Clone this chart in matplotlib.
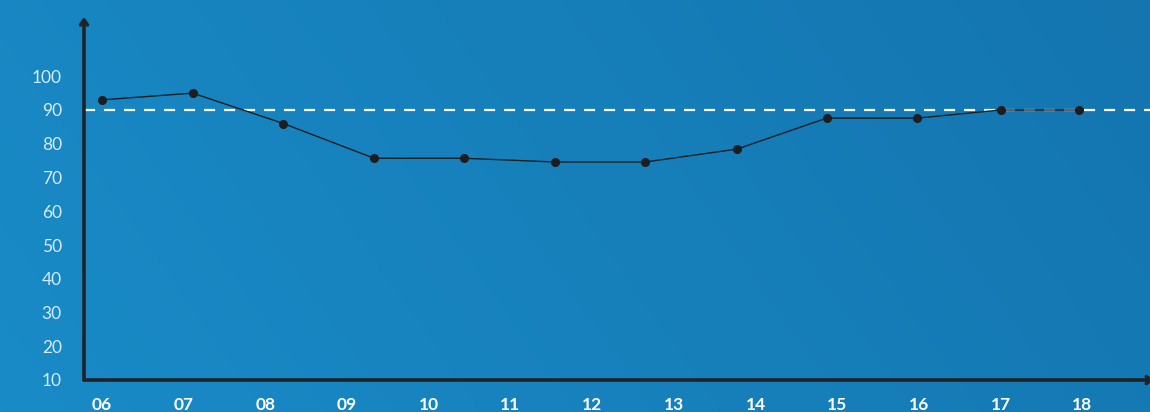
import matplotlib.pyplot as plt
import matplotlib as mpl
import numpy as np

mpl.rcParams['font.family'] = ['Lato', 'DejaVu Sans']

# year labels on the x axis
years = ['06', '07', '08', '09', '10', '11', '12', '13', '14', '15', '16', '17', '18']
year_pos = list(range(6, 19))

# measured points (x in year units, as placed in the picture)
pt_x = [6.0, 7.11, 8.22, 9.33, 10.43, 11.54, 12.65, 13.77, 14.87, 15.98, 17.0, 17.96]
pt_y = [93, 95, 86, 75.7, 75.7, 74.6, 74.6, 78.4, 87.6, 87.6, 90, 90]

target = 90
y_ticks = [10, 20, 30, 40, 50, 60, 70, 80, 90, 100]

W, H = 1150, 412
fig = plt.figure(figsize=(W / 100, H / 100), dpi=100)

# background gradient
bg = fig.add_axes([0, 0, 1, 1])
c_left = np.array([25, 139, 199]) / 255
c_right = np.array([20, 117, 175]) / 255
gx = np.linspace(0, 1, 300)[None, :]
gy = np.linspace(0, 1, 100)[:, None]
t = np.clip(0.8 * gx + 0.2 * gy, 0, 1)
img = c_left[None, None, :] * (1 - t[..., None]) + c_right[None, None, :] * t[..., None]
bg.imshow(img, aspect='auto', extent=[0, 1, 0, 1], origin='lower')
bg.axis('off')

left_px, bottom_px, top_px = 84, 380, 17
ax = fig.add_axes([left_px / W, (H - bottom_px) / H, (W - left_px) / W, (bottom_px - top_px) / H])
ax.patch.set_alpha(0)

unit = 81.7  # px per year
ax.set_xlim(6 - (102 - left_px) / unit, 6 + (W - 102) / unit)
ax.set_ylim(10, 90 + (110 - top_px) / 3.375)

ax.axhline(target, color='white', lw=1.6, ls=(0, (5, 4)), zorder=2)
ax.plot(pt_x, pt_y, color='#1d1d1f', lw=1.0, marker='o', ms=5.5, zorder=3)

for s in ax.spines.values():
    s.set_visible(False)

axis_col = '#1f2226'
ax.annotate('', xy=(0, 1), xytext=(0, 0), xycoords='axes fraction',
            arrowprops=dict(arrowstyle='->,head_length=0.35,head_width=0.25',
                            color=axis_col, lw=2.6, shrinkA=0, shrinkB=0),
            annotation_clip=False)
ax.annotate('', xy=(1.004, 0), xytext=(0, 0), xycoords='axes fraction',
            arrowprops=dict(arrowstyle='->,head_length=0.35,head_width=0.25',
                            color=axis_col, lw=2.6, shrinkA=0, shrinkB=0),
            annotation_clip=False)

ax.set_yticks(y_ticks)
ax.set_yticklabels([str(v) for v in y_ticks], color='#d6ecf8', fontsize=12.5, fontweight='normal')
ax.set_xticks(year_pos)
ax.set_xticklabels(years, color='white', fontsize=12.5, fontweight='bold')
ax.tick_params(axis='y', length=0, pad=16)
ax.tick_params(axis='x', length=0, pad=12)

plt.savefig('out.png', dpi=100)
